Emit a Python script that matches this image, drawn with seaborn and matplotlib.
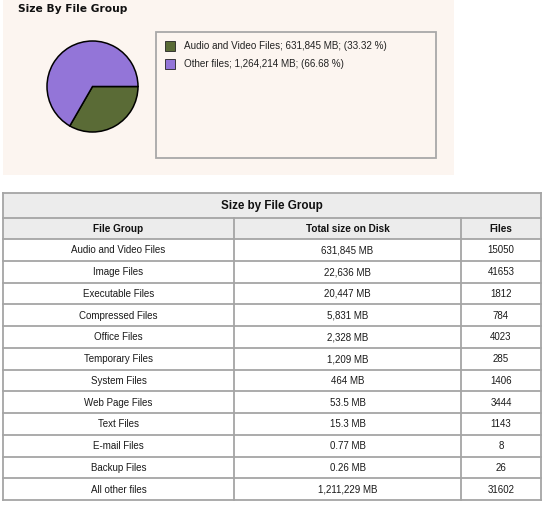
import matplotlib.pyplot as plt
import matplotlib.patches as mpatches
import seaborn as sns

# pie data
pie_labels = ["Audio and Video Files", "Other files"]
pie_sizes = [631845, 1264214]
pie_colors = ["#5a6b36", "#9375d8"]

# table data
groups = ["Audio and Video Files", "Image Files", "Executable Files", "Compressed Files",
          "Office Files", "Temporary Files", "System Files", "Web Page Files",
          "Text Files", "E-mail Files", "Backup Files", "All other files"]
sizes_mb = [631845, 22636, 20447, 5831, 2328, 1209, 464, 53.5, 15.3, 0.77, 0.26, 1211229]
files = [15050, 41653, 1812, 784, 4023, 285, 1406, 3444, 1143, 8, 26, 31602]
headers = ["File Group", "Total size on Disk", "Files"]

sns.set_theme(style="white")
plt.rcParams['font.family'] = ['Liberation Sans', 'DejaVu Sans']


def fmt_mb(v):
    if v >= 100:
        return f"{v:,.0f} MB"
    return f"{v:g} MB"


W, H = 550, 509
fig = plt.figure(figsize=(5.5, 5.09), dpi=100)
fig.patch.set_facecolor("white")
ax = fig.add_axes([0, 0, 1, 1])
ax.set_xlim(0, W)
ax.set_ylim(H, 0)
ax.axis("off")

# --- top panel with pie ---
panel_bg = "#fcf5f0"
ax.add_patch(mpatches.Rectangle((3, 0), 451, 175, facecolor=panel_bg, edgecolor="none"))
ax.text(18, 9, "Size By File Group", family=["DejaVu Sans"], weight="bold",
        fontsize=7.7, va="center", ha="left", color="#111111")

ax.add_patch(mpatches.Rectangle((156, 32), 280, 126, facecolor=panel_bg,
                                edgecolor="#a8a8a8", lw=1.3))
total = sum(pie_sizes)
for i, (lab, val, col) in enumerate(zip(pie_labels, pie_sizes, pie_colors)):
    y = 45.5 + i * 18.5
    ax.add_patch(mpatches.Rectangle((165, y - 5), 10, 10, facecolor=col,
                                    edgecolor="#222222", lw=0.6))
    ax.text(184, y, f"{lab}; {val:,} MB; ({val / total * 100:.2f} %)",
            fontsize=7.1, va="center", ha="left", color="#222222")

pax = fig.add_axes([47 / W, 1 - 132 / H, 91 / W, 91 / H])
pax.pie(pie_sizes, colors=pie_colors, startangle=0, counterclock=False,
        wedgeprops=dict(edgecolor="black", linewidth=1.1, clip_on=False))
pax.set_xlim(-1, 1)
pax.set_ylim(-1, 1)
pax.axis("off")

# --- table ---
col_x = [3, 234, 461, 541]
top = 193
title_h = 25
head_h = 21
row_h = 21.75
line_c = "#a5a5a5"
head_bg = "#ececec"

ax.add_patch(mpatches.Rectangle((col_x[0], top), col_x[-1] - col_x[0], title_h + head_h,
                                facecolor=head_bg, edgecolor="none"))
ax.text((col_x[0] + col_x[-1]) / 2, top + title_h / 2 + 0.5, "Size by File Group",
        weight="bold", fontsize=8.4, ha="center", va="center", color="#111111")

hy = top + title_h
for j, h in enumerate(headers):
    ax.text((col_x[j] + col_x[j + 1]) / 2, hy + head_h / 2 + 0.5, h, weight="bold",
            fontsize=7.2, ha="center", va="center", color="#111111")

body_top = hy + head_h
for i, (g, s, n) in enumerate(zip(groups, sizes_mb, files)):
    yc = body_top + (i + 0.5) * row_h + 0.5
    cells = [g, fmt_mb(s), str(n)]
    for j, c in enumerate(cells):
        ax.text((col_x[j] + col_x[j + 1]) / 2, yc, c, fontsize=7.0,
                ha="center", va="center", color="#1a1a1a")

bottom = body_top + len(groups) * row_h
hlines = [top, hy, body_top] + [body_top + (i + 1) * row_h for i in range(len(groups))]
for yl in hlines:
    ax.plot([col_x[0], col_x[-1]], [yl, yl], color=line_c, lw=1.3, solid_capstyle="projecting")
for k, xl in enumerate(col_x):
    y0 = top if k in (0, len(col_x) - 1) else hy
    ax.plot([xl, xl], [y0, bottom], color=line_c, lw=1.3, solid_capstyle="projecting")

fig.savefig("out.png", dpi=100, facecolor=fig.get_facecolor())
